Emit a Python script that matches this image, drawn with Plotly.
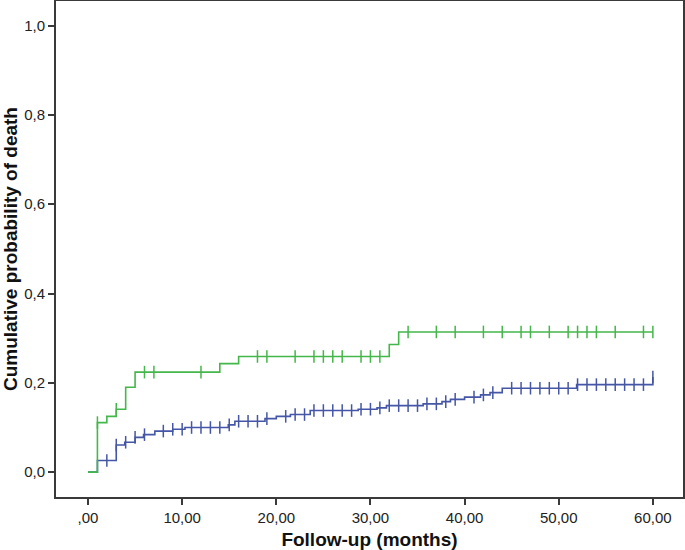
import plotly.graph_objects as go
import bisect

# ---- data (months, cumulative probability of death) ----
green_event_times = [1, 2, 3, 4, 5, 14, 16, 32, 33]
green_event_levels = [0.111, 0.125, 0.141, 0.190, 0.224, 0.243, 0.259, 0.286, 0.314]
green_censor_times = [1, 3, 6, 7, 12, 18, 19, 22, 24, 25, 26, 27, 29, 30, 31, 34, 37, 39,
                      42, 44, 46, 47, 49, 51, 52, 53, 54, 56, 59, 60]
green_end = 60

blue_event_times = [1, 3, 3.9, 5, 5.9, 7.1, 9.0, 10.3, 14.9, 15.6, 18.8, 20.0, 21.5, 23.6,
                    28.7, 30.7, 31.7, 35.6, 37.6, 38.5, 40.0, 41.7, 42.7, 44.0, 51.9, 60.0]
blue_event_levels = [0.026, 0.061, 0.067, 0.078, 0.084, 0.092, 0.096, 0.100, 0.106, 0.114,
                     0.120, 0.125, 0.129, 0.138, 0.141, 0.144, 0.149, 0.153, 0.158, 0.163,
                     0.168, 0.173, 0.178, 0.188, 0.196, 0.213]
blue_censor_times = [2, 3, 4, 5, 6, 8, 9, 10, 11, 12, 13, 14, 15, 16, 17, 18, 19, 21, 22, 23,
                     24, 25, 26, 27, 28, 29, 30, 31, 32, 33, 34, 35, 36, 37, 38, 39, 41, 42, 43,
                     45, 46, 47, 48, 49, 50, 51, 52, 53, 54, 55, 56, 57, 58, 59, 60]
blue_end = 60

x_tickvals = [0, 10, 20, 30, 40, 50, 60]
x_ticktext = [",00", "10,00", "20,00", "30,00", "40,00", "50,00", "60,00"]
y_tickvals = [0, 0.2, 0.4, 0.6, 0.8, 1.0]
y_ticktext = ["0,0", "0,2", "0,4", "0,6", "0,8", "1,0"]

GREEN = "#44b74a"
BLUE = "#4556a6"
FONT = "Arial, 'Liberation Sans', sans-serif"


def step_xy(times, levels, end):
    xs = [0] + list(times)
    ys = [0] + list(levels)
    if end > xs[-1]:
        xs.append(end)
        ys.append(ys[-1])
    return xs, ys


def level_at(times, levels, t):
    i = bisect.bisect_right(times, t)
    return 0 if i == 0 else levels[i - 1]


fig = go.Figure()
for times, levels, end, cens, col in [
    (blue_event_times, blue_event_levels, blue_end, blue_censor_times, BLUE),
    (green_event_times, green_event_levels, green_end, green_censor_times, GREEN),
]:
    xs, ys = step_xy(times, levels, end)
    fig.add_trace(go.Scatter(x=xs, y=ys, mode="lines", line=dict(color=col, width=1.6, shape="hv"),
                             showlegend=False, hoverinfo="skip"))
    fig.add_trace(go.Scatter(x=cens, y=[level_at(times, levels, t) for t in cens], mode="markers",
                             marker=dict(symbol="line-ns", size=9,
                                         line=dict(color=col, width=1.5)),
                             showlegend=False, hoverinfo="skip"))

axis_common = dict(showgrid=False, zeroline=False, showline=True, mirror=True,
                   linecolor="#3a3a3a", linewidth=2, ticks="outside", ticklen=6,
                   tickwidth=1.5, tickcolor="#3a3a3a",
                   tickfont=dict(family=FONT, size=15, color="#222"))

fig.update_layout(
    width=685, height=550,
    margin=dict(l=56, r=2, t=1, b=53),
    paper_bgcolor="white", plot_bgcolor="white",
    xaxis=dict(range=[-3.4, 63.2], tickvals=x_tickvals, ticktext=x_ticktext,
               title=dict(text="<b>Follow-up (months)</b>", standoff=9,
                          font=dict(family=FONT, size=19, color="#111")),
               automargin=False, **axis_common),
    yaxis=dict(range=[-0.0556, 1.055], tickvals=y_tickvals, ticktext=y_ticktext,
               title=dict(text="<b>Cumulative probability of death</b>", standoff=1,
                          font=dict(family=FONT, size=19, color="#111")),
               automargin=False, **axis_common),
)

fig.write_html(
    "out.html",
    config={"displayModeBar": False},
    post_script="document.body.style.margin='0';document.body.style.overflow='hidden';",
)
